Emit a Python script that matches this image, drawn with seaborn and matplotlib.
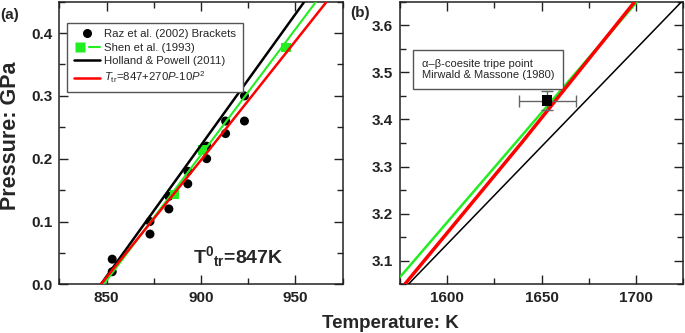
import matplotlib
matplotlib.use("Agg")
import matplotlib.pyplot as plt
from matplotlib.lines import Line2D
from matplotlib.legend_handler import HandlerTuple
import seaborn as sns
import pandas as pd

# ---------------- data ----------------
# Panel (a)
raz_T = [853, 853, 873, 873, 883, 883, 893, 893, 903, 903, 913, 913, 923, 923]
raz_P = [0.04, 0.02, 0.10, 0.08, 0.14, 0.12, 0.18, 0.16, 0.22, 0.20, 0.26, 0.24, 0.30, 0.26]
shen_T = [886, 901, 945]
shen_P = [0.143, 0.214, 0.377]

shen_line_T = [848.5, 960.9]
shen_line_P = [0.0, 0.45]
hp_line_T = [847.0, 954.7]
hp_line_P = [0.0, 0.45]
fit_line_T = [847.0, 900.6, 966.5]
fit_line_P = [0.0, 0.20, 0.45]

# Panel (b)
shen_b_T = [1575.3, 1700.5]
shen_b_P = [3.0667, 3.65]
hp_b_T = [1579.4, 1724.1]
hp_b_P = [3.05, 3.65]
fit_b_T = [1577.5, 1639.3, 1699.3]
fit_b_P = [3.05, 3.35, 3.65]
triple_T = [1653]
triple_P = [3.44]
triple_Terr = [15]
triple_Perr = [0.02]

xticks_a = [850, 900, 950]
yticks_a = [0.0, 0.1, 0.2, 0.3, 0.4]
xticks_b = [1600, 1650, 1700]
yticks_b = [3.1, 3.2, 3.3, 3.4, 3.5, 3.6]

legend_labels = ["Raz et al. (2002) Brackets", "Shen et al. (1993)",
                 "Holland & Powell (2011)", r"$T_{\rm tr}$=847+270$P$-10$P^2$"]
box_text = "\u03b1\u2013\u03b2-coesite tripe point\nMirwald & Massone (1980)"

GREEN = "#22ee22"
RED = "#ff0000"

# ---------------- style ----------------
sns.set_style("ticks")
plt.rcParams.update({
    "font.family": ["Liberation Sans", "DejaVu Sans"],
    "font.weight": "normal",
    "mathtext.fontset": "custom",
    "mathtext.rm": "Liberation Sans",
    "mathtext.it": "Liberation Sans:italic",
    "mathtext.bf": "Liberation Sans:bold",
    "xtick.direction": "in",
    "ytick.direction": "in",
    "xtick.top": True,
    "ytick.right": True,
    "xtick.major.size": 6.5,
    "ytick.major.size": 6.5,
    "xtick.minor.size": 4,
    "ytick.minor.size": 4,
    "xtick.major.width": 1.0,
    "ytick.major.width": 1.0,
    "xtick.minor.width": 1.0,
    "ytick.minor.width": 1.0,
    "xtick.color": "#222222",
    "ytick.color": "#222222",
    "axes.edgecolor": "#222222",
    "axes.linewidth": 1.1,
    "xtick.labelsize": 11,
    "ytick.labelsize": 11,
})

W, H = 685, 333
fig = plt.figure(figsize=(W / 100, H / 100), dpi=100)


def frac_axes(l, r, t, b):
    return [l / W, 1 - b / H, (r - l) / W, (b - t) / H]


axa = fig.add_axes(frac_axes(59.3, 342.7, 1.7, 284.3))
axb = fig.add_axes(frac_axes(400.0, 683.3, 1.7, 284.3))

# ---------------- panel (a) ----------------
df_raz = pd.DataFrame({"T": raz_T, "P": raz_P})
df_shen = pd.DataFrame({"T": shen_T, "P": shen_P})
sns.scatterplot(data=df_raz, x="T", y="P", ax=axa, color="black", marker="o",
                s=42, edgecolor="none", zorder=2, legend=False)
sns.scatterplot(data=df_shen, x="T", y="P", ax=axa, color=GREEN, marker="s",
                s=44, edgecolor="none", zorder=3, legend=False)
sns.lineplot(x=shen_line_T, y=shen_line_P, ax=axa, color=GREEN, lw=1.5,
             sort=False, estimator=None, zorder=4)
sns.lineplot(x=hp_line_T, y=hp_line_P, ax=axa, color="black", lw=1.8,
             sort=False, estimator=None, zorder=4)
sns.lineplot(x=fit_line_T, y=fit_line_P, ax=axa, color=RED, lw=1.8,
             sort=False, estimator=None, zorder=5)

axa.set_xlim(825, 975)
axa.set_ylim(0, 0.45)
axa.set_xticks(xticks_a)
axa.set_yticks(yticks_a)
axa.set_xticks([825, 875, 925, 975], minor=True)
axa.set_yticks([0.05, 0.15, 0.25, 0.35, 0.45], minor=True)
axa.yaxis.set_major_formatter(matplotlib.ticker.FormatStrFormatter("%.1f"))
axa.tick_params(axis="both", which="both", pad=5)
axa.set_xlabel("")
axa.set_ylabel("Pressure: GPa", fontsize=15.5, fontweight="bold")
axa.yaxis.set_label_coords(-0.135, 0.527)

h_raz = Line2D([], [], ls="none", marker="o", color="black", ms=6.5, mec="none")
h_shen_m = Line2D([], [], ls="none", marker="s", color=GREEN, ms=6.5, mec="none")
h_shen_l = Line2D([], [], ls="-", color=GREEN, lw=1.5)
h_hp = Line2D([], [], ls="-", color="black", lw=1.8)
h_fit = Line2D([], [], ls="-", color=RED, lw=1.8)
leg = axa.legend([h_raz, (h_shen_m, h_shen_l), h_hp, h_fit], legend_labels,
                 handler_map={tuple: HandlerTuple(ndivide=None, pad=0.3)},
                 loc="upper left", bbox_to_anchor=(0.028, 0.926),
                 borderaxespad=0, frameon=True, fancybox=False, shadow=False,
                 prop={"size": 8.2, "weight": "normal"}, handlelength=2.3,
                 handletextpad=0.35, labelspacing=0.3, borderpad=0.6)
leg.get_frame().set_edgecolor("#555555")
leg.get_frame().set_linewidth(1.0)
leg.get_frame().set_alpha(1)

axa.text(0.471, 0.075, r"$\mathbf{T^{0}{}_{tr}}$=847K", transform=axa.transAxes,
         fontsize=14, fontweight="bold", ha="left", va="baseline")

# ---------------- panel (b) ----------------
sns.lineplot(x=shen_b_T, y=shen_b_P, ax=axb, color=GREEN, lw=1.8,
             sort=False, estimator=None, zorder=3)
sns.lineplot(x=fit_b_T, y=fit_b_P, ax=axb, color=RED, lw=2.5,
             sort=False, estimator=None, zorder=4)
sns.lineplot(x=hp_b_T, y=hp_b_P, ax=axb, color="black", lw=1.1,
             sort=False, estimator=None, zorder=3)
axb.errorbar(triple_T, triple_P, xerr=triple_Terr, yerr=triple_Perr, fmt="none",
             ecolor="#666666", elinewidth=1.0, capsize=4, capthick=1.0, zorder=5)
sns.scatterplot(x=triple_T, y=triple_P, ax=axb, color="black", marker="s",
                s=55, edgecolor="none", zorder=6, legend=False)

axb.set_xlim(1575, 1725)
axb.set_ylim(3.05, 3.65)
axb.set_xticks(xticks_b)
axb.set_yticks(yticks_b)
axb.set_xticks([1575, 1625, 1675, 1725], minor=True)
axb.set_yticks([3.05, 3.15, 3.25, 3.35, 3.45, 3.55, 3.65], minor=True)
axb.yaxis.set_major_formatter(matplotlib.ticker.FormatStrFormatter("%.1f"))
axb.tick_params(axis="both", which="both", pad=5)
axb.set_xlabel("")
axb.set_ylabel("")

axb.text(0.0766, 0.760, box_text, transform=axb.transAxes, fontsize=8,
         fontweight="normal", ha="left", va="center", linespacing=1.15,
         bbox=dict(boxstyle="square,pad=0.8", fc="white", ec="#555555", lw=1.0))

for ax in (axa, axb):
    for lab in ax.get_xticklabels() + ax.get_yticklabels():
        lab.set_fontweight("bold")

# ---------------- figure texts ----------------
fig.text(0.0, 1 - 15.5 / H, "(a)", fontsize=11, fontweight="bold", ha="left", va="center")
fig.text(350.5 / W, 1 - 12.5 / H, "(b)", fontsize=11, fontweight="bold", ha="left", va="center")
fig.text(389.9 / W, 1 - 327.7 / H, "Temperature: K", fontsize=13.5, fontweight="bold",
         ha="center", va="baseline")

fig.savefig("out.png", dpi=100)
